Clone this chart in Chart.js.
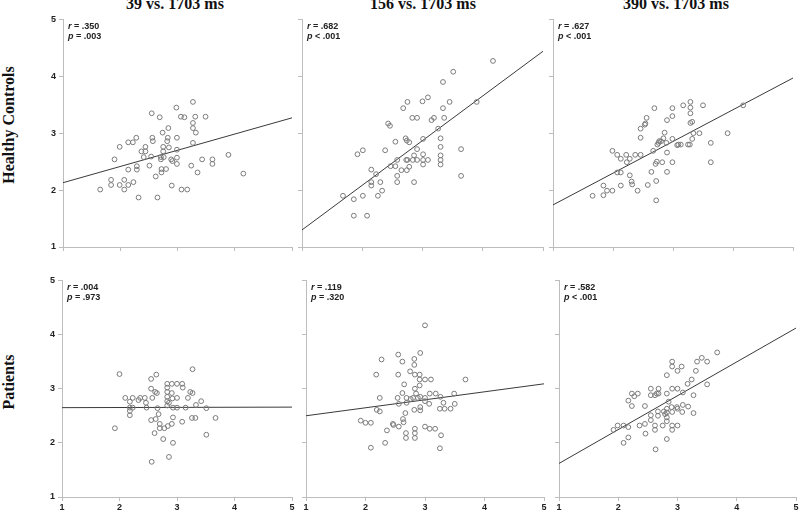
<!DOCTYPE html>
<html>
<head>
<meta charset="utf-8">
<script src="https://cdn.jsdelivr.net/npm/chart.js@4.4.1/dist/chart.umd.min.js"></script>
<style>
  body { margin: 0; background: #fff; }
  #wrap { position: relative; width: 800px; height: 514px; overflow: hidden; font-family: "Liberation Serif", "Times New Roman", serif; }
  #wrap canvas { position: absolute; }
  .coltitle { position: absolute; top: -4px; width: 200px; text-align: center; font-weight: bold; font-size: 16px; line-height: 16px; color: #111; }
  .rowtitle { position: absolute; width: 200px; height: 16px; text-align: center; font-weight: bold; font-size: 16px; line-height: 16px; color: #111; transform: rotate(-90deg); }
</style>
</head>
<body>
<div id="wrap"></div>
<script>
// column / row headings
var colTitles = ["39 vs. 1703 ms", "156 vs. 1703 ms", "390 vs. 1703 ms"];
var rowTitles = ["Healthy Controls", "Patients"];
var axisTicks = [1, 2, 3, 4, 5];

// Healthy controls, 39 vs 1703 ms
var hc39X = [1.65,1.84,1.84,1.90,1.99,1.99,2.07,2.07,2.14,2.14, 2.14,2.22,2.23,2.28,2.29,2.29,2.32,2.37,2.41,2.44, 2.44,2.51,2.54,2.55,2.56,2.57,2.62,2.65,2.69,2.71, 2.71,2.72,2.72,2.74,2.75,2.75,2.76,2.80,2.82,2.83, 2.84,2.85,2.89,2.90,2.91,2.98,2.99,2.99,2.99,2.99, 3.06,3.07,3.12,3.17,3.24,3.27,3.27,3.27,3.27,3.31, 3.32,3.35,3.43,3.49,3.61,3.61,3.89,4.15];
var hc39Y = [2.01,2.18,2.09,2.54,2.76,2.09,2.18,2.01,2.84,2.36, 2.09,2.84,2.14,2.92,2.36,2.42,1.87,2.68,2.58,2.76, 2.68,2.43,2.59,3.35,2.92,2.86,2.24,1.87,3.28,2.58, 2.54,2.37,2.31,3.01,2.76,2.68,2.58,2.37,2.86,2.92, 3.09,2.75,2.54,2.08,2.51,3.45,2.92,2.71,2.57,2.46, 3.29,2.01,3.28,2.01,2.43,3.55,3.18,3.09,2.83,3.29, 3.01,2.31,2.54,3.29,2.54,2.46,2.62,2.29];

// Healthy controls, 156 vs 1703 ms
var hc156X = [1.68,1.86,1.86,1.92,2.01,2.01,2.08,2.15,2.15,2.15, 2.23,2.26,2.30,2.33,2.38,2.43,2.46,2.47,2.55,2.55, 2.58,2.58,2.58,2.65,2.68,2.72,2.73,2.74,2.74,2.75, 2.75,2.78,2.78,2.83,2.84,2.86,2.86,2.91,2.91,2.91, 3.00,3.01,3.01,3.01,3.01,3.09,3.09,3.15,3.19,3.26, 3.30,3.30,3.30,3.30,3.30,3.34,3.34,3.36,3.45,3.51, 3.64,3.64,3.90,4.17];
var hc156Y = [1.90,1.84,1.55,2.63,2.70,1.90,1.55,2.36,2.14,2.08, 2.28,1.90,2.14,1.99,2.70,3.17,3.13,2.42,2.85,2.42, 2.53,2.25,2.14,2.35,3.44,2.91,2.53,2.35,2.87,3.55, 2.53,2.41,2.84,3.27,2.53,2.14,2.61,2.72,2.53,3.27, 3.56,2.90,2.63,2.53,2.45,3.63,2.53,3.23,3.27,3.08, 2.91,2.76,2.61,2.53,2.45,3.90,3.44,3.27,3.55,4.08, 2.72,2.25,3.55,4.27];

// Healthy controls, 390 vs 1703 ms
var hc390X = [1.66,1.84,1.84,1.90,1.99,1.99,2.07,2.07,2.13,2.13, 2.13,2.22,2.23,2.28,2.28,2.31,2.32,2.37,2.41,2.46, 2.46,2.46,2.53,2.54,2.56,2.58,2.64,2.67,2.69,2.71, 2.72,2.72,2.73,2.74,2.76,2.77,2.80,2.82,2.84,2.86, 2.89,2.90,2.90,2.90,2.99,2.99,2.99,2.99,3.07,3.09, 3.13,3.17,3.25,3.28,3.29,3.29,3.29,3.29,3.32,3.32, 3.34,3.44,3.50,3.63,3.63,3.91,4.17];
var hc390Y = [1.90,2.08,1.91,1.99,1.99,2.69,2.31,2.62,2.55,2.31, 2.08,2.62,2.49,2.55,2.26,2.15,2.10,2.62,1.99,2.92, 2.62,3.08,3.15,3.17,3.27,2.09,2.32,2.69,3.44,2.46, 2.16,1.82,2.50,2.80,2.83,2.86,2.86,2.49,2.91,3.01, 2.83,3.23,2.66,2.32,3.44,3.30,2.90,2.49,2.79,2.80, 2.80,3.49,2.80,2.80,3.55,3.45,3.35,3.18,3.20,2.90, 3.00,3.00,3.49,2.83,2.49,3.00,3.49];

// Patients, 39 vs 1703 ms
var pt39X = [1.92,2.00,2.10,2.18,2.18,2.18,2.18,2.23,2.23,2.33, 2.36,2.44,2.46,2.47,2.55,2.55,2.55,2.57,2.61,2.62, 2.63,2.64,2.65,2.66,2.68,2.70,2.70,2.76,2.78,2.83, 2.83,2.83,2.83,2.83,2.83,2.84,2.86,2.86,2.91,2.91, 2.91,2.92,2.93,2.93,2.93,3.00,3.00,3.00,3.09,3.09, 3.10,3.15,3.19,3.23,3.26,3.27,3.27,3.32,3.33,3.42, 3.51,3.51,3.67,2.56];
var pt39Y = [2.27,3.27,2.83,2.76,2.65,2.59,2.51,2.83,2.65,2.79, 2.83,2.83,2.74,2.65,2.42,3.00,3.18,2.83,2.18,2.94, 2.44,3.26,2.92,2.64,2.53,2.35,2.27,2.07,2.27,3.09, 3.02,2.94,2.85,2.77,2.69,2.31,2.74,1.74,3.09,2.92, 2.35,2.82,2.00,2.47,2.65,3.09,2.83,2.65,3.09,2.39, 3.02,2.65,2.83,2.94,2.46,3.36,2.92,2.46,2.70,2.77, 2.64,2.15,2.46,1.65];

// Patients, 156 vs 1703 ms
var pt156X = [1.92,2.00,2.09,2.09,2.18,2.19,2.24,2.24,2.27,2.33, 2.36,2.46,2.47,2.55,2.55,2.54,2.56,2.56,2.62,2.62, 2.63,2.64,2.65,2.67,2.68,2.68,2.69,2.69,2.75,2.76, 2.80,2.82,2.82,2.82,2.83,2.83,2.83,2.83,2.83,2.85, 2.88,2.91,2.91,2.91,2.92,2.92,2.92,3.00,3.00,3.00, 3.00,3.00,3.07,3.08,3.08,3.10,3.17,3.18,3.25,3.26, 3.27,3.25,3.31,3.33,3.43,3.49,3.50,3.68,2.92];
var pt156Y = [2.41,2.37,2.37,1.91,3.26,2.61,2.83,2.58,3.54,2.00, 2.23,2.35,2.33,3.63,3.26,2.83,2.72,2.30,3.50,2.92, 2.44,2.38,3.08,2.55,2.18,2.09,2.83,2.74,3.32,2.81, 2.83,2.61,3.55,3.44,3.26,2.26,2.18,2.09,3.00,2.91, 2.83,3.26,3.17,3.06,2.60,2.66,2.85,4.17,3.17,2.83, 2.77,2.30,2.72,2.91,2.26,3.17,2.26,2.91,2.63,2.85, 2.14,1.90,2.74,2.63,2.63,2.91,2.72,3.17,3.66];

// Patients, 390 vs 1703 ms
var pt390X = [1.92,1.99,2.09,2.09,2.17,2.17,2.17,2.23,2.23,2.27, 2.33,2.36,2.45,2.45,2.46,2.55,2.55,2.55,2.55,2.62, 2.65,2.62,2.62,2.67,2.67,2.68,2.68,2.75,2.77,2.79, 2.82,2.82,2.82,2.82,2.82,2.82,2.82,2.85,2.90,2.91, 2.91,2.91,2.91,2.91,2.91,2.99,3.00,3.00,3.00,3.00, 3.07,3.08,3.09,3.09,3.17,3.18,3.24,3.27,3.27,3.31, 3.33,3.41,3.50,3.50,3.67,2.63];
var pt390Y = [2.24,2.32,2.32,2.00,2.78,2.29,2.10,2.91,2.68,2.86, 2.91,2.32,2.68,2.35,2.17,3.00,2.88,2.51,2.42,2.88, 2.91,2.32,2.24,2.50,2.58,3.00,2.91,2.32,2.58,2.53, 3.25,2.91,2.63,2.56,2.47,2.40,2.07,2.76,2.66,3.50, 3.41,3.00,2.57,2.32,2.24,2.66,3.33,3.00,2.63,2.32, 3.41,2.57,2.70,2.93,3.09,2.67,3.17,2.88,2.55,3.33, 3.50,3.57,3.08,3.50,3.67,1.88];

// regression line values at x = 1 and x = 5
var lineX = [1, 5];
var hc39Line = [2.13, 3.27];
var hc156Line = [1.30, 4.44];
var hc390Line = [1.74, 3.97];
var pt39Line = [2.65, 2.66];
var pt156Line = [2.50, 3.09];
var pt390Line = [1.62, 4.12];

// correlation stats
var rValues = [".350", ".682", ".627", ".004", ".119", ".582"];
var pValues = ["= .003", "< .001", "< .001", "= .973", "= .320", "< .001"];

var wrap = document.getElementById("wrap");

// plot areas: [axis x, top y, right x, bottom y]
var boxes = [
  [63, 17, 292, 247], [302, 17, 543, 247], [553, 17, 793, 247],
  [62, 278, 292, 497], [306, 278, 544, 497], [559, 278, 796, 497]
];
var titleCenters = [175, 423, 676];
var rowCenters = [125, 382];

colTitles.forEach(function(t, i) {
  var d = document.createElement("div");
  d.className = "coltitle";
  d.textContent = t;
  d.style.left = (titleCenters[i] - 100) + "px";
  wrap.appendChild(d);
});
rowTitles.forEach(function(t, i) {
  var d = document.createElement("div");
  d.className = "rowtitle";
  d.textContent = t;
  d.style.left = (9 - 100) + "px";
  d.style.top = (rowCenters[i] - 8) + "px";
  wrap.appendChild(d);
});

function toPoints(xs, ys) {
  var pts = [];
  for (var i = 0; i < xs.length; i++) pts.push({ x: xs[i], y: ys[i] });
  return pts;
}

var statPlugin = {
  id: "statText",
  afterDraw: function(chart) {
    var o = chart.options.plugins.statText;
    var ctx = chart.ctx;
    var a = chart.chartArea;
    var x0 = a.left + 5;
    ctx.save();
    ctx.fillStyle = "#222";
    ctx.textBaseline = "alphabetic";
    ctx.font = "italic bold 9px 'Liberation Sans', Arial, sans-serif";
    ctx.fillText("r", x0, a.top + 10);
    var w = ctx.measureText("r").width;
    ctx.font = "bold 9px 'Liberation Sans', Arial, sans-serif";
    ctx.fillText(" = " + o.r, x0 + w, a.top + 10);
    ctx.font = "italic bold 9px 'Liberation Sans', Arial, sans-serif";
    ctx.fillText("p", x0, a.top + 20);
    w = ctx.measureText("p").width;
    ctx.font = "bold 9px 'Liberation Sans', Arial, sans-serif";
    ctx.fillText(" " + o.p, x0 + w, a.top + 20);
    ctx.restore();
  }
};

var LEFT = 30, BOTTOM = 20, PAD = 6;

function makePanel(i, xs, ys, line, showY, showX) {
  var b = boxes[i];
  var c = document.createElement("canvas");
  var w = b[2] - b[0] + LEFT + PAD;
  var h = b[3] - b[1] + PAD + BOTTOM;
  c.width = w; c.height = h;
  c.style.left = (b[0] - LEFT) + "px";
  c.style.top = (b[1] - PAD) + "px";
  c.style.width = w + "px"; c.style.height = h + "px";
  wrap.appendChild(c);

  var tickFont = { family: "'Liberation Sans', Arial, sans-serif", size: 9, weight: "bold" };
  new Chart(c.getContext("2d"), {
    type: "scatter",
    data: {
      datasets: [
        {
          data: toPoints(xs, ys),
          pointRadius: 2.4,
          pointBorderWidth: 1,
          pointBorderColor: "#7a7a7a",
          pointBackgroundColor: "rgba(255,255,255,0)",
          pointHoverRadius: 2.4
        },
        {
          type: "line",
          data: toPoints(lineX, line),
          borderColor: "#3a3a3a",
          borderWidth: 1,
          pointRadius: 0,
          fill: false
        }
      ]
    },
    options: {
      responsive: false,
      animation: false,
      devicePixelRatio: 1,
      layout: { padding: { top: PAD, right: PAD, left: 0, bottom: 0 } },
      plugins: {
        legend: { display: false },
        tooltip: { enabled: false },
        statText: { r: rValues[i], p: pValues[i] }
      },
      scales: {
        x: {
          type: "linear", min: 1, max: 5,
          afterBuildTicks: function(s) { s.ticks = axisTicks.map(function(v) { return { value: v }; }); },
          ticks: { color: showX ? "#222" : "rgba(0,0,0,0)", font: tickFont, padding: 1, maxRotation: 0 },
          grid: { drawOnChartArea: false, drawTicks: true, tickLength: 4, color: "#bdbdbd" },
          border: { color: "#bdbdbd", width: 1 },
          afterFit: function(s) { s.height = BOTTOM; }
        },
        y: {
          type: "linear", min: 1, max: 5,
          afterBuildTicks: function(s) { s.ticks = axisTicks.map(function(v) { return { value: v }; }); },
          ticks: { color: showY ? "#222" : "rgba(0,0,0,0)", font: tickFont, padding: 3 },
          grid: { drawOnChartArea: false, drawTicks: true, tickLength: 4, color: "#bdbdbd" },
          border: { color: "#bdbdbd", width: 1 },
          afterFit: function(s) { s.width = LEFT; }
        }
      }
    },
    plugins: [statPlugin]
  });
}

makePanel(0, hc39X, hc39Y, hc39Line, true, false);
makePanel(1, hc156X, hc156Y, hc156Line, false, false);
makePanel(2, hc390X, hc390Y, hc390Line, false, false);
makePanel(3, pt39X, pt39Y, pt39Line, true, true);
makePanel(4, pt156X, pt156Y, pt156Line, false, true);
makePanel(5, pt390X, pt390Y, pt390Line, false, true);
</script>
</body>
</html>
